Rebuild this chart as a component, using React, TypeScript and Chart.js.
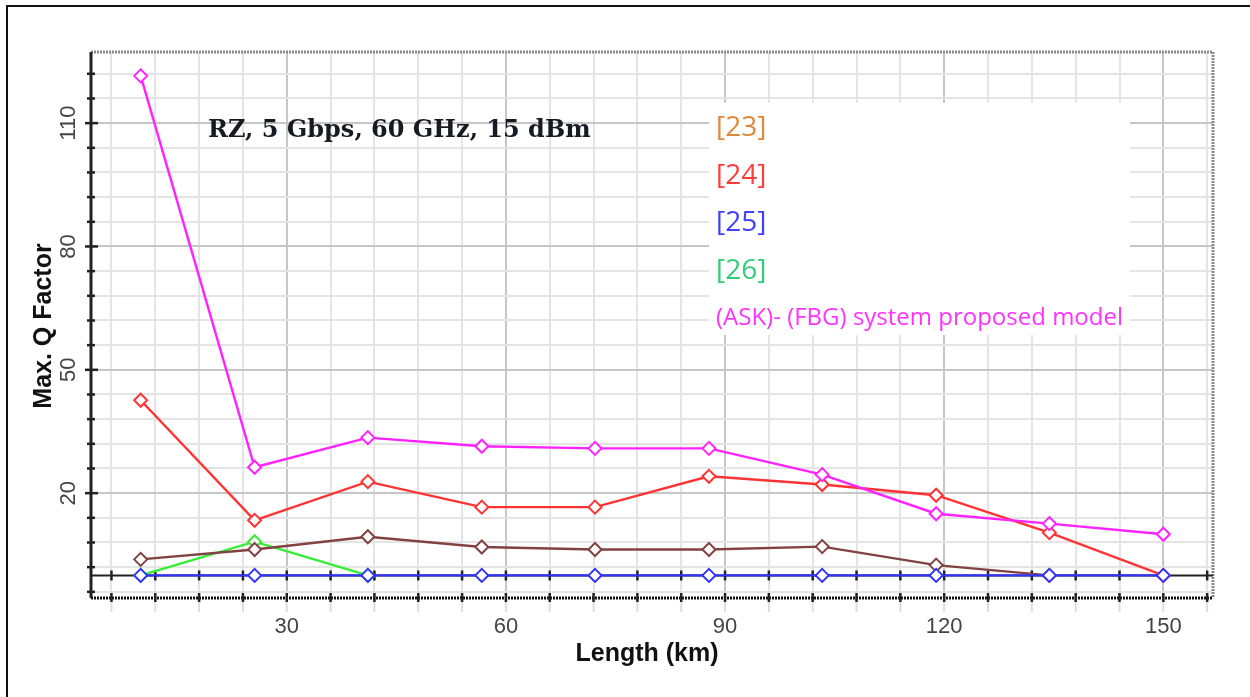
import React, { useEffect, useRef } from "react";
import { Chart, registerables } from "chart.js";

Chart.register(...registerables);

// ---- data ----
const lengthsKm = [10, 25.6, 41.1, 56.7, 72.2, 87.8, 103.3, 118.9, 134.4, 150];
const proposedModel = [121.5, 26.3, 33.5, 31.4, 30.9, 30.9, 24.5, 15.0, 12.6, 10.0];
const ref24 = [42.6, 13.4, 22.8, 16.6, 16.6, 24.1, 22.1, 19.5, 10.4, 0];
const ref23 = [3.9, 6.3, 9.4, 6.9, 6.3, 6.3, 7.0, 2.5, 0, null];
const ref25 = [0, 0, 0, 0, 0, 0, 0, 0, 0, 0];
const ref26 = [0, 8.2, 0, null, null, null, null, null, null, null];

const xTickLabels = [30, 60, 90, 120, 150];
const yTickLabels = [20, 50, 80, 110];
const gridStep = 6;

const legendLabels = ["[23]", "[24]", "[25]", "[26]", "(ASK)- (FBG) system proposed model"];
const legendColors = ["#dc8a3e", "#ff3b3b", "#3f3fff", "#33cc77", "#ff33ff"];

const titleText = "RZ, 5 Gbps, 60 GHz, 15 dBm";
const xAxisTitle = "Length (km)";
const yAxisTitle = "Max. Q Factor";

const toPoints = (vals: (number | null)[]) =>
  lengthsKm.map((x, i) => ({ x, y: vals[i] }));

const stepTicks = (from: number, to: number) => {
  const out: { value: number }[] = [];
  for (let v = from; v <= to + 1e-9; v += gridStep) out.push({ value: v });
  return out;
};

const decor = {
  id: "decor",
  beforeDraw(chart: any) {
    const { ctx, width, height } = chart;
    ctx.save();
    ctx.fillStyle = "#ffffff";
    ctx.fillRect(0, 0, width, height);
    ctx.strokeStyle = "#111";
    ctx.lineWidth = 2;
    ctx.beginPath();
    ctx.moveTo(7, height);
    ctx.lineTo(7, 6);
    ctx.lineTo(width, 6);
    ctx.stroke();
    ctx.restore();
  },
  beforeDatasetsDraw(chart: any) {
    const { ctx, chartArea: a, scales } = chart;
    const xs = scales.x;
    const ys = scales.y;
    ctx.save();
    // legend backdrop
    ctx.fillStyle = "#ffffff";
    ctx.fillRect(709, 103, 421, 232);

    // faint grid stubs below bottom axis
    ctx.strokeStyle = "#dddddd";
    ctx.lineWidth = 2;
    xs.ticks.forEach((t: any) => {
      const px = xs.getPixelForValue(t.value);
      ctx.beginPath();
      ctx.moveTo(px, a.bottom);
      ctx.lineTo(px, a.bottom + 14);
      ctx.stroke();
    });

    // dotted top & right borders
    ctx.setLineDash([2, 1]);
    ctx.strokeStyle = "#8a8a8a";
    ctx.lineWidth = 3;
    ctx.beginPath();
    ctx.moveTo(a.left, a.top);
    ctx.lineTo(a.right, a.top);
    ctx.moveTo(a.right, a.top);
    ctx.lineTo(a.right, a.bottom);
    ctx.stroke();

    // dotted bottom axis (black)
    ctx.strokeStyle = "#111";
    ctx.lineWidth = 3;
    ctx.beginPath();
    ctx.moveTo(a.left, a.bottom);
    ctx.lineTo(a.right, a.bottom);
    ctx.stroke();
    ctx.setLineDash([]);

    // zero line
    const y0 = ys.getPixelForValue(0);
    ctx.strokeStyle = "#222";
    ctx.lineWidth = 2;
    ctx.beginPath();
    ctx.moveTo(a.left, y0);
    ctx.lineTo(a.right, y0);
    ctx.stroke();

    // left axis
    ctx.strokeStyle = "#222";
    ctx.lineWidth = 3;
    ctx.beginPath();
    ctx.moveTo(a.left, a.top);
    ctx.lineTo(a.left, a.bottom);
    ctx.stroke();

    // y tick marks
    ctx.lineWidth = 2.5;
    ys.ticks.forEach((t: any) => {
      const py = ys.getPixelForValue(t.value);
      const major = yTickLabels.includes(t.value);
      ctx.beginPath();
      ctx.moveTo(a.left - (major ? 6 : 4), py);
      ctx.lineTo(a.left + (major ? 7 : 4), py);
      ctx.stroke();
    });
    // x tick marks on zero line and bottom axis
    xs.ticks.forEach((t: any) => {
      const px = xs.getPixelForValue(t.value);
      if (px > a.right - 2) return;
      ctx.beginPath();
      ctx.moveTo(px, y0 - 5);
      ctx.lineTo(px, y0 + 5);
      ctx.moveTo(px, a.bottom - 5);
      ctx.lineTo(px, a.bottom + 4);
      ctx.stroke();
    });
    ctx.restore();
  },
  afterDraw(chart: any) {
    const { ctx, chartArea: a, scales } = chart;
    const xs = scales.x;
    const ys = scales.y;
    ctx.save();
    // tick labels
    ctx.fillStyle = "#444";
    ctx.font = "22px 'Liberation Sans', Arial, sans-serif";
    ctx.textAlign = "center";
    ctx.textBaseline = "middle";
    xTickLabels.forEach((v) => {
      ctx.fillText(String(v), xs.getPixelForValue(v), a.bottom + 29);
    });
    yTickLabels.forEach((v) => {
      ctx.save();
      ctx.translate(a.left - 22, ys.getPixelForValue(v));
      ctx.rotate(-Math.PI / 2);
      ctx.fillText(String(v), 0, 0);
      ctx.restore();
    });

    // axis titles
    ctx.fillStyle = "#111";
    ctx.font = "bold 25px 'Liberation Sans', Arial, sans-serif";
    ctx.fillText(xAxisTitle, 647, a.bottom + 56);
    ctx.save();
    ctx.translate(44, 326);
    ctx.rotate(-Math.PI / 2);
    ctx.fillText(yAxisTitle, 0, 0);
    ctx.restore();

    // chart annotation title
    ctx.textAlign = "left";
    ctx.textBaseline = "alphabetic";
    ctx.fillStyle = "#161a22";
    ctx.font = "bold 24px 'DejaVu Serif', serif";
    ctx.fillText(titleText, 208, 137);

    // legend texts
    const rows = [128, 176, 223, 271, 318];
    ctx.textBaseline = "middle";
    legendLabels.forEach((lbl, i) => {
      ctx.fillStyle = legendColors[i];
      ctx.font = i < 4 ? "28px 'Open Sans', sans-serif" : "24px 'Open Sans', sans-serif";
      ctx.fillText(lbl, 716, rows[i]);
    });
    ctx.restore();
  },
};

export default function App() {
  const ref = useRef<HTMLCanvasElement | null>(null);
  useEffect(() => {
    if (!ref.current) return;
    const common = {
      showLine: true,
      borderWidth: 2.4,
      pointStyle: "rectRot" as const,
      pointRadius: 6.5,
      pointBorderWidth: 2,
      pointBackgroundColor: "#ffffff",
      spanGaps: false,
      tension: 0,
    };
    const chart = new Chart(ref.current, {
      type: "scatter",
      data: {
        datasets: [
          { ...common, label: "[25]", data: toPoints(ref25), borderColor: "#3333ff", pointBorderColor: "#3333ff", order: 0 },
          { ...common, label: "[23]", data: toPoints(ref23), borderColor: "#824242", pointBorderColor: "#824242", order: 1 },
          { ...common, label: "(ASK)- (FBG) system proposed model", data: toPoints(proposedModel), borderColor: "#ff22ff", pointBorderColor: "#ff22ff", order: 2 },
          { ...common, label: "[24]", data: toPoints(ref24), borderColor: "#ff3333", pointBorderColor: "#ff3333", order: 3 },
          { ...common, label: "[26]", data: toPoints(ref26), borderColor: "#33ee33", pointBorderColor: "#33ee33", order: 4 },
        ],
      },
      options: {
        responsive: false,
        animation: false,
        devicePixelRatio: 1,
        layout: { padding: { left: 91, top: 52, right: 37, bottom: 99 } },
        plugins: { legend: { display: false }, tooltip: { enabled: false } },
        scales: {
          x: {
            type: "linear",
            min: 3.2,
            max: 156.8,
            afterBuildTicks: (s: any) => {
              s.ticks = stepTicks(6, 156);
            },
            ticks: { display: false },
            border: { display: false },
            grid: {
              drawTicks: false,
              lineWidth: 2,
              color: (c: any) => (xTickLabels.includes(c.tick?.value) ? "#c6c6c6" : "#e4e4e4"),
            },
          },
          y: {
            type: "linear",
            min: -5.5,
            max: 127.3,
            afterBuildTicks: (s: any) => {
              s.ticks = stepTicks(-4, 122);
            },
            ticks: { display: false },
            border: { display: false },
            grid: {
              drawTicks: false,
              lineWidth: 2,
              color: (c: any) => (yTickLabels.includes(c.tick?.value) ? "#c6c6c6" : "#e4e4e4"),
            },
          },
        },
      },
      plugins: [decor],
    });
    return () => chart.destroy();
  }, []);
  return (
    <div style={{ position: "fixed", left: 0, top: 0, width: 1250, height: 697, background: "#fff" }}>
      <canvas ref={ref} width={1250} height={697} style={{ display: "block" }} />
    </div>
  );
}
